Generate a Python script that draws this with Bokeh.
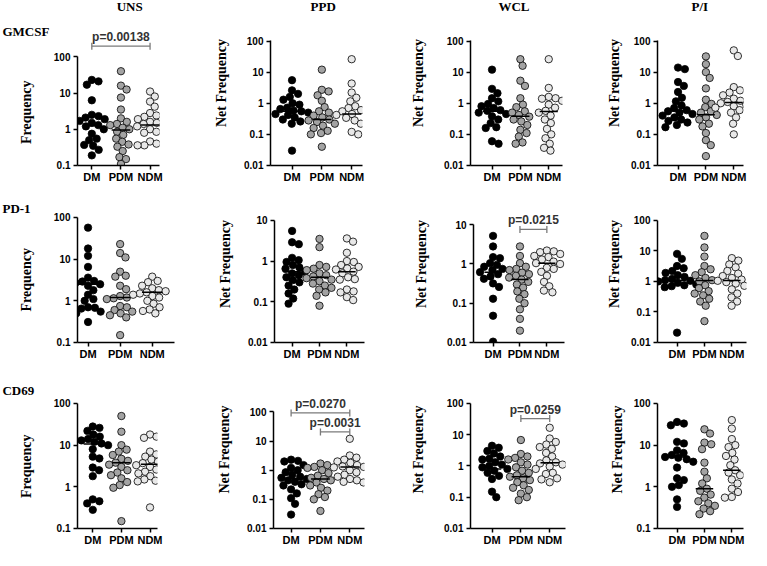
import numpy as np
from bokeh.plotting import figure
from bokeh.layouts import column, row
from bokeh.models import Range1d, FixedTicker, Label, CustomJSTickFormatter
from bokeh.embed import file_html
from bokeh.resources import INLINE

GROUPS = ["DM", "PDM", "NDM"]
STIMULI = ["UNS", "PPD", "WCL", "P/I"]
MARKERS = ["GMCSF", "PD-1", "CD69"]

# ---------------- data ----------------
GMCSF_UNS_DM = [23, 21, 17, 6.3, 2.5, 2.3, 2.1, 1.9, 1.7, 1.5, 1.3, 1.2, 1.0, 0.75, 0.55, 0.5, 0.37, 0.35, 0.27, 0.19]
GMCSF_UNS_PDM = [40, 16, 12.5, 7.5, 3.5, 2.0, 1.6, 1.4, 1.3, 1.1, 1.0, 0.85, 0.7, 0.55, 0.45, 0.38, 0.33, 0.25, 0.17, 0.15, 0.11]
GMCSF_UNS_NDM = [11, 8, 5.8, 4.2, 2.8, 2.4, 2.2, 1.9, 1.6, 1.5, 1.4, 1.3, 1.2, 1.1, 1.0, 0.85, 0.8, 0.46, 0.4, 0.36, 0.36]
GMCSF_UNS_MED = [1.25, 0.95, 1.3]

GMCSF_PPD_DM = [5.5, 2.6, 2.0, 1.6, 1.3, 1.0, 0.9, 0.72, 0.65, 0.58, 0.55, 0.5, 0.45, 0.42, 0.35, 0.3, 0.26, 0.22, 0.03]
GMCSF_PPD_PDM = [12, 2.7, 2.4, 1.8, 1.2, 0.75, 0.55, 0.5, 0.4, 0.35, 0.3, 0.28, 0.25, 0.22, 0.19, 0.16, 0.13, 0.11, 0.1, 0.04]
GMCSF_PPD_NDM = [26, 4.3, 2.2, 1.5, 1.15, 0.8, 0.7, 0.6, 0.55, 0.5, 0.45, 0.42, 0.38, 0.34, 0.28, 0.22, 0.12, 0.1]
GMCSF_PPD_MED = [0.55, 0.3, 0.45]

GMCSF_WCL_DM = [12, 2.9, 2.1, 1.45, 1.15, 0.95, 0.8, 0.7, 0.6, 0.57, 0.5, 0.45, 0.38, 0.3, 0.23, 0.17, 0.16, 0.06, 0.05]
GMCSF_WCL_PDM = [26, 16, 5.3, 3.6, 1.45, 0.9, 0.75, 0.55, 0.5, 0.42, 0.37, 0.3, 0.26, 0.2, 0.14, 0.11, 0.085, 0.055, 0.05]
GMCSF_WCL_NDM = [26, 3.1, 1.6, 1.45, 1.4, 1.2, 0.9, 0.72, 0.57, 0.5, 0.4, 0.3, 0.23, 0.15, 0.1, 0.075, 0.05, 0.037, 0.03]
GMCSF_WCL_MED = [0.55, 0.38, 0.54]

GMCSF_PI_DM = [14, 12.5, 4.8, 3.6, 2.3, 1.5, 1.15, 0.85, 0.7, 0.6, 0.55, 0.5, 0.45, 0.4, 0.35, 0.3, 0.27, 0.24, 0.2, 0.17]
GMCSF_PI_PDM = [32, 18, 10, 6.5, 3.0, 1.3, 0.95, 0.75, 0.55, 0.5, 0.42, 0.35, 0.3, 0.22, 0.18, 0.11, 0.065, 0.045, 0.02]
GMCSF_PI_NDM = [50, 33, 3.3, 2.6, 2.2, 1.8, 1.4, 1.2, 1.1, 1.0, 0.9, 0.8, 0.72, 0.6, 0.5, 0.35, 0.22, 0.1]
GMCSF_PI_MED = [0.56, 0.43, 1.05]

PD1_UNS_DM = [57, 18, 12, 6.5, 3.6, 3.0, 2.9, 2.7, 2.5, 2.3, 1.8, 1.4, 1.1, 1.0, 0.7, 0.68, 0.65, 0.55, 0.5, 0.31]
PD1_UNS_PDM = [23, 14, 11, 5.0, 4.0, 3.8, 2.3, 1.9, 1.3, 1.2, 1.15, 1.1, 0.75, 0.7, 0.6, 0.55, 0.5, 0.45, 0.4, 0.15]
PD1_UNS_NDM = [3.8, 3.0, 2.8, 2.3, 2.0, 1.8, 1.7, 1.6, 1.5, 1.4, 1.3, 1.2, 1.0, 0.85, 0.7, 0.62, 0.57, 0.5]
PD1_UNS_MED = [2.5, 1.2, 1.6]

PD1_PPD_DM = [5.5, 2.9, 2.6, 1.2, 1.05, 0.95, 0.8, 0.7, 0.65, 0.55, 0.5, 0.45, 0.4, 0.34, 0.3, 0.25, 0.2, 0.16, 0.12, 0.09]
PD1_PPD_PDM = [3.5, 2.2, 0.8, 0.72, 0.65, 0.6, 0.5, 0.45, 0.42, 0.38, 0.35, 0.32, 0.28, 0.25, 0.22, 0.2, 0.17, 0.14, 0.08]
PD1_PPD_NDM = [3.6, 3.0, 1.6, 1.0, 0.95, 0.8, 0.72, 0.66, 0.62, 0.55, 0.5, 0.4, 0.36, 0.35, 0.2, 0.18, 0.17, 0.13, 0.11]
PD1_PPD_MED = [0.55, 0.4, 0.55]

PD1_WCL_DM = [5.2, 2.8, 1.5, 1.4, 1.05, 0.95, 0.85, 0.75, 0.7, 0.62, 0.55, 0.48, 0.42, 0.32, 0.26, 0.13, 0.048, 0.0105]
PD1_WCL_PDM = [2.8, 1.6, 1.05, 0.85, 0.75, 0.7, 0.6, 0.55, 0.5, 0.45, 0.4, 0.35, 0.3, 0.25, 0.2, 0.17, 0.13, 0.1, 0.07, 0.04, 0.02]
PD1_WCL_NDM = [2.2, 2.1, 2.0, 1.8, 1.6, 1.5, 1.3, 1.15, 1.05, 1.0, 0.8, 0.75, 0.63, 0.5, 0.35, 0.27, 0.21, 0.19]
PD1_WCL_MED = [0.62, 0.4, 1.05]

PD1_PI_DM = [8, 5.5, 3.2, 2.7, 2.2, 1.9, 1.6, 1.4, 1.2, 1.1, 1.05, 1.0, 0.9, 0.8, 0.75, 0.7, 0.65, 0.021]
PD1_PI_PDM = [31, 13, 6.5, 3.2, 2.5, 2.0, 1.6, 1.3, 1.1, 1.0, 0.75, 0.6, 0.48, 0.4, 0.35, 0.27, 0.22, 0.16, 0.05]
PD1_PI_NDM = [5.8, 4.8, 3.6, 2.9, 2.2, 1.8, 1.5, 1.3, 1.15, 1.05, 0.95, 0.85, 0.72, 0.55, 0.4, 0.3, 0.22, 0.16]
PD1_PI_MED = [1.07, 1.07, 1.07]

CD69_UNS_DM = [28, 26, 22, 18, 16, 14, 13, 12, 11, 10, 8, 5.3, 4.8, 2.9, 2.5, 1.8, 0.5, 0.45, 0.4, 0.28]
CD69_UNS_PDM = [50, 21, 10, 7.8, 7.0, 5.8, 4.7, 4.2, 3.8, 3.4, 3.0, 2.5, 2.2, 1.9, 1.6, 1.3, 1.1, 0.95, 0.15]
CD69_UNS_NDM = [18, 16, 15, 7, 6, 5.3, 4.5, 4.0, 3.7, 3.3, 3.0, 2.6, 2.3, 2.1, 1.8, 1.5, 1.4, 1.35, 0.32]
CD69_UNS_MED = [10.7, 3.8, 3.5]

CD69_PPD_DM = [2.3, 2.1, 2.0, 1.5, 1.2, 1.0, 0.85, 0.7, 0.6, 0.55, 0.5, 0.45, 0.4, 0.33, 0.3, 0.22, 0.16, 0.11, 0.07, 0.03]
CD69_PPD_PDM = [1.7, 1.5, 1.3, 1.2, 1.0, 0.8, 0.65, 0.55, 0.5, 0.45, 0.38, 0.3, 0.25, 0.2, 0.15, 0.12, 0.1, 0.04]
CD69_PPD_NDM = [12, 3.2, 2.7, 2.3, 2.0, 1.8, 1.5, 1.35, 1.3, 1.25, 1.1, 1.0, 0.85, 0.7, 0.6, 0.5, 0.45, 0.4, 0.38]
CD69_PPD_MED = [0.52, 0.5, 1.28]

CD69_WCL_DM = [4.4, 3.8, 3.0, 2.5, 2.0, 1.7, 1.6, 1.3, 1.1, 1.0, 0.9, 0.8, 0.7, 0.6, 0.48, 0.38, 0.15, 0.1]
CD69_WCL_PDM = [6.7, 2.4, 2.0, 1.8, 1.6, 1.3, 1.1, 0.9, 0.7, 0.6, 0.5, 0.45, 0.4, 0.35, 0.3, 0.24, 0.2, 0.17, 0.13, 0.1, 0.08]
CD69_WCL_NDM = [16.5, 7.5, 5.8, 4.8, 4.0, 3.5, 2.6, 2.0, 1.5, 1.3, 1.2, 1.1, 0.95, 0.8, 0.6, 0.55, 0.4, 0.37, 0.3]
CD69_WCL_MED = [0.8, 0.45, 1.25]

CD69_PI_DM = [36, 33, 30, 12, 11, 7.5, 6.5, 5.8, 5.2, 5.0, 4.6, 4.0, 2.9, 1.6, 1.45, 1.1, 1.0, 0.5, 0.33]
CD69_PI_PDM = [24, 19, 11.5, 10.5, 8, 3.8, 2.3, 1.6, 1.2, 0.9, 0.8, 0.65, 0.55, 0.45, 0.4, 0.35, 0.3, 0.26, 0.22]
CD69_PI_NDM = [40, 25, 14, 10, 9, 6.5, 5.5, 4.5, 3.3, 2.5, 2.2, 1.9, 1.5, 1.2, 0.9, 0.75, 0.57, 0.55]
CD69_PI_MED = [5.2, 0.9, 2.5]

# y-axis tick limits per panel (row-major)
Y_LIMITS = [(0.1, 100), (0.01, 100), (0.01, 100), (0.01, 100),
            (0.1, 100), (0.01, 10), (0.01, 10), (0.01, 100),
            (0.1, 100), (0.01, 100), (0.01, 100), (0.1, 100)]

# significance annotations
P_TESTS = [("GMCSF", "UNS", "DM", "NDM", "p=0.00138"),
           ("PD-1", "WCL", "PDM", "NDM", "p=0.0215"),
           ("CD69", "PPD", "DM", "NDM", "p=0.0270"),
           ("CD69", "PPD", "PDM", "NDM", "p=0.0031"),
           ("CD69", "WCL", "PDM", "NDM", "p=0.0259")]

SERIES = {
    ("GMCSF", "UNS"): (GMCSF_UNS_DM, GMCSF_UNS_PDM, GMCSF_UNS_NDM, GMCSF_UNS_MED),
    ("GMCSF", "PPD"): (GMCSF_PPD_DM, GMCSF_PPD_PDM, GMCSF_PPD_NDM, GMCSF_PPD_MED),
    ("GMCSF", "WCL"): (GMCSF_WCL_DM, GMCSF_WCL_PDM, GMCSF_WCL_NDM, GMCSF_WCL_MED),
    ("GMCSF", "P/I"): (GMCSF_PI_DM, GMCSF_PI_PDM, GMCSF_PI_NDM, GMCSF_PI_MED),
    ("PD-1", "UNS"): (PD1_UNS_DM, PD1_UNS_PDM, PD1_UNS_NDM, PD1_UNS_MED),
    ("PD-1", "PPD"): (PD1_PPD_DM, PD1_PPD_PDM, PD1_PPD_NDM, PD1_PPD_MED),
    ("PD-1", "WCL"): (PD1_WCL_DM, PD1_WCL_PDM, PD1_WCL_NDM, PD1_WCL_MED),
    ("PD-1", "P/I"): (PD1_PI_DM, PD1_PI_PDM, PD1_PI_NDM, PD1_PI_MED),
    ("CD69", "UNS"): (CD69_UNS_DM, CD69_UNS_PDM, CD69_UNS_NDM, CD69_UNS_MED),
    ("CD69", "PPD"): (CD69_PPD_DM, CD69_PPD_PDM, CD69_PPD_NDM, CD69_PPD_MED),
    ("CD69", "WCL"): (CD69_WCL_DM, CD69_WCL_PDM, CD69_WCL_NDM, CD69_WCL_MED),
    ("CD69", "P/I"): (CD69_PI_DM, CD69_PI_PDM, CD69_PI_NDM, CD69_PI_MED),
}

# ---------------- layout / style (reference-pixel geometry) ----------------
X_SPEC = [(77, 163, 92, 153), (276, 370, 298, 359), (481, 575, 503, 561), (672, 760, 693, 750),
          (77, 178, 88, 155), (280, 372, 298, 354), (484, 577, 504, 559), (672, 763, 692, 748),
          (77, 161, 93, 153), (279, 372, 297, 357), (481, 578, 503, 562), (672, 760, 692, 748)]
Y_SPEC = [(172, 57), (172, 41), (172, 41), (172, 41),
          (355, 224), (360, 229), (362, 234), (360, 229),
          (549, 419), (551, 428), (550, 419), (549, 419)]
BRACKET_Y = [197, 7.6, 93, 20.7, 32.4]
TITLE_X = [130, 330, 525, 715]
TITLE_Y = 6
ROW_LABEL_X = 2
ROW_LABEL_Y = [30, 215, 405]
YLABEL_X = 27
LABEL_STANDOFF = [18, 12, 15, 6]
STRIP_W = 50
COL_EDGES = [STRIP_W, 186, 377, 577, 751]
ROW_EDGES = [0, 185, 370, 548]
TOTAL_H = 548
COLORS = ["#000000", "#a3a3a3", "#e8e8e8"]
DOT = 7.4
SERIF = "Liberation Serif"
SANS = "Liberation Sans"


def cx(rx):
    return rx * 0.978


def cy(ry):
    return 2 + ry * 0.958


def swarm(vals, ppd, d):
    ys = np.log10(np.asarray(vals, dtype=float)) * ppd
    order = np.argsort(-ys, kind="stable")
    xs = np.zeros(len(ys))
    placed = []
    for i in order:
        y = ys[i]
        forb = []
        for (xj, yj) in placed:
            dy = abs(y - yj)
            if dy < d:
                w = np.sqrt(d * d - dy * dy)
                forb.append((xj - w, xj + w))
        cands = [0.0] + [a for a, b in forb] + [b for a, b in forb]
        cands.sort(key=lambda c: (round(abs(c), 6), -c))
        for cnd in cands:
            if all(not (a + 1e-6 < cnd < b - 1e-6) for a, b in forb):
                xs[i] = cnd
                break
        placed.append((xs[i], y))
    return xs


def make_panel(r, c):
    marker, stim = MARKERS[r], STIMULI[c]
    k = r * 4 + c
    left, right, dm_x, ndm_x = X_SPEC[k]
    bot_y, top_y = Y_SPEC[k]
    ylo, yhi = Y_LIMITS[k]
    x0, x1 = COL_EDGES[c], COL_EDGES[c + 1]
    y0, y1 = ROW_EDGES[r], ROW_EDGES[r + 1]
    W, H = x1 - x0, y1 - y0
    fl = int(round(cx(left) - x0))
    fr = int(round(cx(right) - x0))
    ftick = int(round(cy(top_y) - y0))
    fb = int(round(cy(bot_y) - y0))
    pad = ftick  # frame reaches the top of the figure
    frame_w = fr - fl
    decs = np.log10(yhi) - np.log10(ylo)
    ppd = (fb - ftick) / decs
    y_end = 10 ** (np.log10(yhi) + pad / ppd)
    unit = (cx(ndm_x) - cx(dm_x)) / 2.0
    xs = 1 - (cx(dm_x) - cx(left)) / unit
    xe = xs + frame_w / unit

    p = figure(width=W, height=H, y_axis_type="log",
               x_range=Range1d(xs, xe), y_range=Range1d(ylo / 1.002, y_end),
               output_backend="svg", toolbar_location=None, tools="", title=None,
               min_border_left=fl, min_border_right=W - fr,
               min_border_top=0, min_border_bottom=H - fb)
    p.outline_line_color = None
    p.xgrid.visible = False
    p.ygrid.visible = False
    p.background_fill_color = "white"
    p.border_fill_color = "white"

    ticks = [10.0 ** e for e in range(int(round(np.log10(ylo))), int(round(np.log10(yhi))) + 1)]
    ya = p.yaxis[0]
    ya.ticker = FixedTicker(ticks=ticks)
    ya.formatter = CustomJSTickFormatter(code="return tick.toString();")
    ya.bounds = (ylo / 1.001, yhi * 1.001)
    if c > 0:
        ya.axis_label = "Net Frequency"
        ya.axis_label_text_font = SERIF
        ya.axis_label_text_font_style = "bold"
        ya.axis_label_text_font_size = "14px"
        ya.axis_label_text_color = "black"
        ya.axis_label_standoff = LABEL_STANDOFF[c]
    ya.major_label_text_font = SANS
    ya.major_label_text_font_style = "bold"
    ya.major_label_text_font_size = "10px"
    ya.major_label_standoff = 3

    xa = p.xaxis[0]
    xa.ticker = FixedTicker(ticks=[1, 2, 3])
    xa.major_label_overrides = {1: GROUPS[0], 2: GROUPS[1], 3: GROUPS[2]}
    xa.major_label_text_font = SANS
    xa.major_label_text_font_style = "bold"
    xa.major_label_text_font_size = "11px"
    xa.major_label_standoff = 1

    for ax in (xa, ya):
        ax.axis_line_width = 1.5
        ax.axis_line_color = "black"
        ax.major_tick_line_width = 1.5
        ax.major_tick_line_color = "black"
        ax.major_tick_out = 4
        ax.major_tick_in = 0
        ax.minor_tick_line_color = None
        ax.major_label_text_color = "black"

    dm, pdm, ndm, med = SERIES[(marker, stim)]
    for g, vals in enumerate((dm, pdm, ndm)):
        offs = swarm(vals, ppd, DOT - 0.4)
        p.scatter((g + 1) + offs / unit, vals, size=DOT, fill_color=COLORS[g],
                  line_color="black", line_width=0.8)
    for g in range(3):
        p.segment(x0=[g + 1 - 0.32], x1=[g + 1 + 0.32], y0=[med[g]], y1=[med[g]],
                  line_color="black", line_width=1.5)

    for (mk, st, ga, gb, txt), yb in zip(P_TESTS, BRACKET_Y):
        if mk == marker and st == stim:
            ia, ib = GROUPS.index(ga) + 1, GROUPS.index(gb) + 1
            p.segment(x0=[ia], x1=[ib], y0=[yb], y1=[yb], line_color="#7a7a7a", line_width=1.3)
            p.scatter([ia, ib], [yb, yb], marker="dash", angle=np.pi / 2, size=7,
                      line_color="#7a7a7a", line_width=1.3)
            p.add_layout(Label(x=(ia + ib) / 2, y=yb, y_offset=2, text=txt,
                               text_align="center", text_baseline="bottom",
                               text_font=SANS, text_font_style="bold",
                               text_font_size="12px", text_color="#333333"))

    if r == 0:
        p.add_layout(Label(x=cx(TITLE_X[c]) - x0 - fl, y=fb - (cy(TITLE_Y) - y0),
                           x_units="screen", y_units="screen", text=stim,
                           text_align="center", text_baseline="middle", text_color="black",
                           text_font=SERIF, text_font_style="bold", text_font_size="13px"))
    return p


def make_strip():
    s = figure(width=STRIP_W, height=TOTAL_H, x_range=Range1d(0, STRIP_W),
               y_range=Range1d(TOTAL_H, 0), x_axis_type=None, y_axis_type=None,
               output_backend="svg", toolbar_location=None, tools="", title=None,
               min_border_left=0, min_border_right=0, min_border_top=0, min_border_bottom=0)
    s.outline_line_color = None
    s.xgrid.visible = False
    s.ygrid.visible = False
    for r in range(3):
        s.add_layout(Label(x=cx(ROW_LABEL_X), y=cy(ROW_LABEL_Y[r]), text=MARKERS[r],
                           text_align="left", text_baseline="middle", text_color="black",
                           text_font=SERIF, text_font_style="bold", text_font_size="13px"))
        bot_y, top_y = Y_SPEC[r * 4]
        s.add_layout(Label(x=cx(YLABEL_X), y=cy((bot_y + top_y) / 2), text="Frequency",
                           angle=np.pi / 2, text_align="center", text_baseline="middle",
                           text_color="black",
                           text_font=SERIF, text_font_style="bold", text_font_size="14px"))
    return s


rows = []
for r in range(3):
    rows.append(row(*[make_panel(r, c) for c in range(4)], spacing=0))
grid = column(*rows, spacing=0)
layout = row(make_strip(), grid, spacing=0)

open("out.html", "w").write(file_html(layout, INLINE))
